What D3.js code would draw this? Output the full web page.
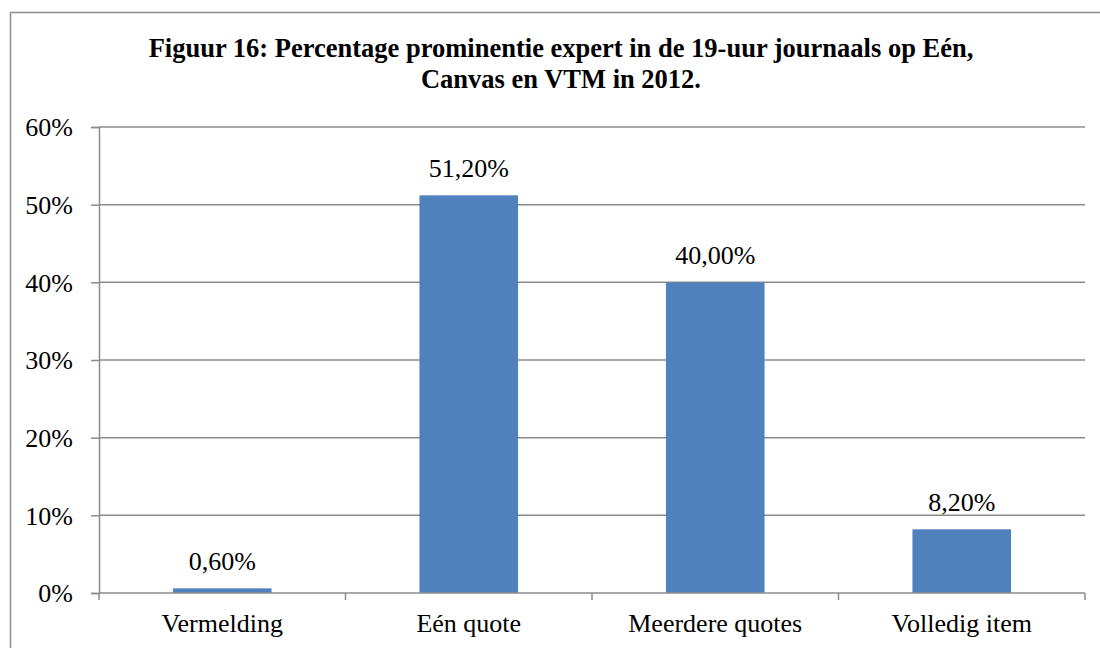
<!DOCTYPE html>
<html>
<head>
<meta charset="utf-8">
<script src="https://cdn.jsdelivr.net/npm/d3@7"></script>
<style>
  html, body { margin: 0; padding: 0; background: #fff; }
</style>
</head>
<body>
<svg id="chart" width="1100" height="648"></svg>
<script>
// Prominence of the expert in the 19h news (Eén, Canvas, VTM, 2012)
const categories = ["Vermelding", "Eén quote", "Meerdere quotes", "Volledig item"];
const values = [0.6, 51.2, 40.0, 8.2];
const valueLabels = ["0,60%", "51,20%", "40,00%", "8,20%"];
const yTicks = [0, 10, 20, 30, 40, 50, 60];
const titleLines = [
  "Figuur 16: Percentage prominentie expert in de 19-uur journaals op Eén,",
  "Canvas en VTM in 2012."
];

const FONT = '"Liberation Serif", "Times New Roman", serif';
const svg = d3.select("#chart");
const W = 1100, H = 648;
const margin = { left: 99, top: 127 };
const plotW = 1085 - margin.left;
const plotH = 593 - margin.top;
const gridColor = "#8c8c8c";

// outer frame
svg.append("rect")
  .attr("x", 10.5).attr("y", 12.5)
  .attr("width", W + 20).attr("height", H + 20)
  .attr("fill", "none").attr("stroke", gridColor).attr("stroke-width", 1.5);

// title
svg.append("g").selectAll("text").data(titleLines).join("text")
  .attr("x", 561).attr("y", (d, i) => 57 + i * 31)
  .attr("text-anchor", "middle")
  .style("font-family", FONT).style("font-weight", "bold").style("font-size", "26.5px")
  .style("fill", "#000")
  .text(d => d);

const x = d3.scaleBand().domain(categories).range([0, plotW]).paddingInner(0.6).paddingOuter(0.3);
const y = d3.scaleLinear().domain([0, 60]).range([plotH, 0]);

const g = svg.append("g").attr("transform", `translate(${margin.left},${margin.top})`);

// horizontal gridlines
g.append("g").selectAll("line").data(yTicks.filter(t => t > 0)).join("line")
  .attr("x1", 0).attr("x2", plotW)
  .attr("y1", d => y(d)).attr("y2", d => y(d))
  .attr("stroke", gridColor).attr("stroke-width", 1.5);

// y axis
const yAxis = g.append("g")
  .call(d3.axisLeft(y).tickValues(yTicks).tickFormat(d => d + "%").tickSize(8).tickPadding(18));
yAxis.select(".domain").attr("stroke", gridColor).attr("stroke-width", 1.5);
yAxis.selectAll(".tick line").attr("stroke", gridColor).attr("stroke-width", 1.5);
yAxis.selectAll(".tick text")
  .style("font-family", FONT).style("font-size", "26px").style("fill", "#000")
  .attr("dy", "0.34em");

// bars
g.append("g").selectAll("rect").data(values).join("rect")
  .attr("x", (d, i) => x(categories[i]))
  .attr("y", d => y(d))
  .attr("width", x.bandwidth())
  .attr("height", d => plotH - y(d))
  .attr("fill", "#4f81bd");

// value labels
g.append("g").selectAll("text").data(values).join("text")
  .attr("x", (d, i) => x(categories[i]) + x.bandwidth() / 2)
  .attr("y", d => y(d) - 18)
  .attr("text-anchor", "middle")
  .style("font-family", FONT).style("font-size", "26px").style("fill", "#000")
  .text((d, i) => valueLabels[i]);

// x axis baseline with category boundary ticks
const step = plotW / categories.length;
g.append("line")
  .attr("x1", 0).attr("x2", plotW).attr("y1", plotH).attr("y2", plotH)
  .attr("stroke", gridColor).attr("stroke-width", 1.5);
g.append("g").selectAll("line").data(d3.range(categories.length + 1)).join("line")
  .attr("x1", d => d * step).attr("x2", d => d * step)
  .attr("y1", plotH).attr("y2", plotH + 7)
  .attr("stroke", gridColor).attr("stroke-width", 1.5);

// category labels
g.append("g").selectAll("text").data(categories).join("text")
  .attr("x", d => x(d) + x.bandwidth() / 2)
  .attr("y", 632 - margin.top)
  .attr("text-anchor", "middle")
  .style("font-family", FONT).style("font-size", "26px").style("fill", "#000")
  .text(d => d);
</script>
</body>
</html>
